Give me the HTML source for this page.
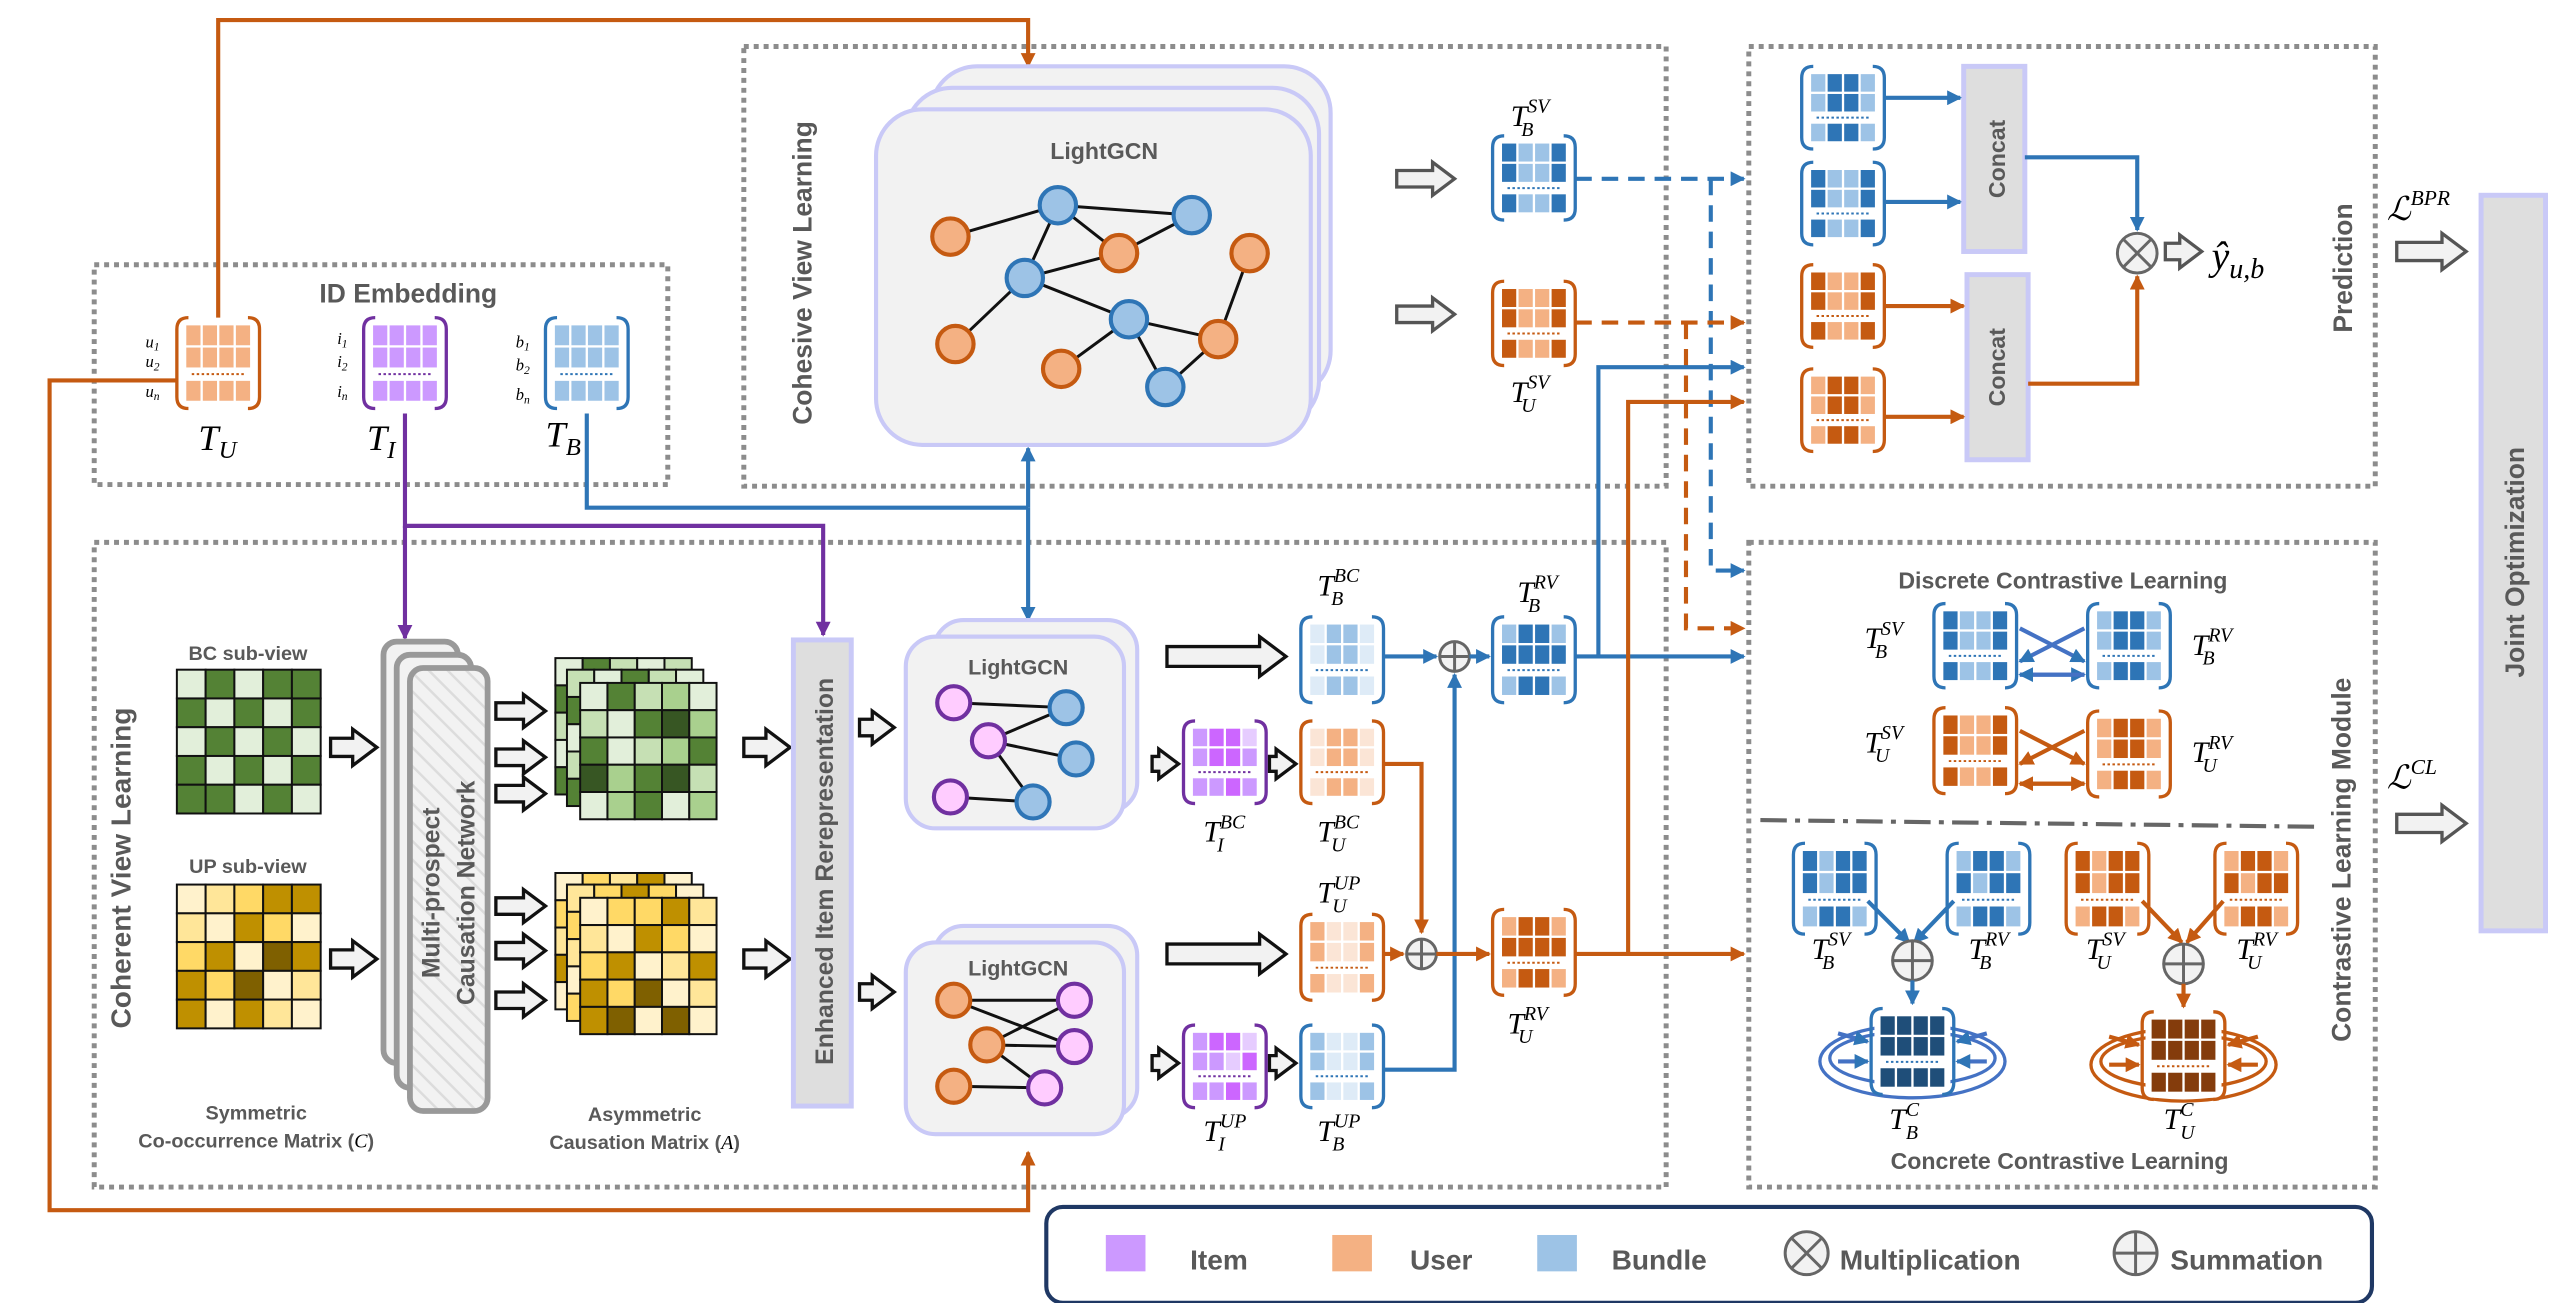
<!DOCTYPE html>
<html><head><meta charset="utf-8"><style>
html,body{margin:0;padding:0;background:#fff;}
svg{display:block;}
.t{font-family:"Liberation Sans",sans-serif;font-weight:bold;fill:#595959;}
.m{font-family:"Liberation Serif",serif;font-style:italic;fill:#000;}
</style></head><body>
<svg id="s" xmlns="http://www.w3.org/2000/svg" width="2567" height="1303" viewBox="0 0 1553 788">
<defs>
<marker id="ab" markerWidth="9" markerHeight="9" refX="8" refY="4.5" orient="auto" markerUnits="userSpaceOnUse"><path d="M0,0 L9,4.5 L0,9 z" fill="#2e75b6"/></marker>
<marker id="ao" markerWidth="9" markerHeight="9" refX="8" refY="4.5" orient="auto" markerUnits="userSpaceOnUse"><path d="M0,0 L9,4.5 L0,9 z" fill="#c55a11"/></marker>
<marker id="ap" markerWidth="9" markerHeight="9" refX="8" refY="4.5" orient="auto" markerUnits="userSpaceOnUse"><path d="M0,0 L9,4.5 L0,9 z" fill="#7030a0"/></marker>
<pattern id="hatch" width="8" height="8" patternUnits="userSpaceOnUse" patternTransform="rotate(-45)"><rect width="8" height="8" fill="#f2f2f2"/><line x1="0" y1="0" x2="0" y2="8" stroke="#dcdcdc" stroke-width="3"/></pattern>
</defs>
<g id="g"></g>
<g id="txt">
<text class="t" x="247" y="183" font-size="16" text-anchor="middle">ID Embedding</text>
<text class="m" x="88" y="210" font-size="10">u<tspan font-size="7" dy="2">1</tspan></text>
<text class="m" x="88" y="222" font-size="10">u<tspan font-size="7" dy="2">2</tspan></text>
<text class="m" x="88" y="240" font-size="10">u<tspan font-size="7" dy="2">n</tspan></text>
<text class="m" x="204" y="208" font-size="10">i<tspan font-size="7" dy="2">1</tspan></text>
<text class="m" x="204" y="222" font-size="10">i<tspan font-size="7" dy="2">2</tspan></text>
<text class="m" x="204" y="240" font-size="10">i<tspan font-size="7" dy="2">n</tspan></text>
<text class="m" x="312" y="210" font-size="10">b<tspan font-size="7" dy="2">1</tspan></text>
<text class="m" x="312" y="224" font-size="10">b<tspan font-size="7" dy="2">2</tspan></text>
<text class="m" x="312" y="242" font-size="10">b<tspan font-size="7" dy="2">n</tspan></text>
<text class="m" x="120" y="272" font-size="22">T<tspan font-size="15" dy="5">U</tspan></text>
<text class="m" x="222" y="272" font-size="22">T<tspan font-size="15" dy="5">I</tspan></text>
<text class="m" x="330" y="270" font-size="22">T<tspan font-size="15" dy="5">B</tspan></text>
<text class="t" transform="translate(491,165) rotate(-90)" font-size="16" text-anchor="middle">Cohesive View Learning</text>
<text class="t" x="668" y="96" font-size="14" text-anchor="middle">LightGCN</text>
<text class="m" x="914" y="76" font-size="18">T<tspan font-size="12" dy="-8">SV</tspan><tspan font-size="12" dx="-17" dy="14">B</tspan></text>
<text class="m" x="914" y="243" font-size="18">T<tspan font-size="12" dy="-8">SV</tspan><tspan font-size="12" dx="-17" dy="14">U</tspan></text>
<text class="t" transform="translate(1213,96) rotate(-90)" font-size="14" text-anchor="middle">Concat</text>
<text class="t" transform="translate(1213,222) rotate(-90)" font-size="14" text-anchor="middle">Concat</text>
<text class="m" x="1338" y="163" font-size="24">ŷ<tspan font-size="17" dy="5">u,b</tspan></text>
<text class="t" transform="translate(1423,162) rotate(-90)" font-size="16" text-anchor="middle">Prediction</text>
<text class="m" x="1444" y="133" font-size="20">ℒ<tspan font-size="13" dy="-9">BPR</tspan></text>
<text class="m" x="1444" y="477" font-size="20">ℒ<tspan font-size="13" dy="-9">CL</tspan></text>
<text class="t" transform="translate(1527,340) rotate(-90)" font-size="16" text-anchor="middle">Joint Optimization</text>
<text class="t" transform="translate(79,525) rotate(-90)" font-size="17" text-anchor="middle">Coherent View Learning</text>
<text class="t" x="150" y="399" font-size="12" text-anchor="middle">BC sub-view</text>
<text class="t" x="150" y="528" font-size="12" text-anchor="middle">UP sub-view</text>
<text class="t" transform="translate(266,540) rotate(-90)" font-size="15" text-anchor="middle">Multi-prospect</text>
<text class="t" transform="translate(287,540) rotate(-90)" font-size="15" text-anchor="middle">Causation Network</text>
<text class="t" x="155" y="677" font-size="12" text-anchor="middle">Symmetric</text>
<text class="t" x="155" y="694" font-size="12" text-anchor="middle">Co-occurrence Matrix (<tspan class="m" font-weight="normal" fill="#595959">C</tspan>)</text>
<text class="t" x="390" y="678" font-size="12" text-anchor="middle">Asymmetric</text>
<text class="t" x="390" y="695" font-size="12" text-anchor="middle">Causation Matrix (<tspan class="m" font-weight="normal" fill="#595959">A</tspan>)</text>
<text class="t" transform="translate(504,527) rotate(-90)" font-size="15" text-anchor="middle">Enhanced Item Rerepresentation</text>
<text class="t" x="616" y="408" font-size="13" text-anchor="middle">LightGCN</text>
<text class="t" x="616" y="590" font-size="13" text-anchor="middle">LightGCN</text>
<text class="m" x="797" y="360" font-size="18">T<tspan font-size="12" dy="-8">BC</tspan><tspan font-size="12" dx="-17" dy="14">B</tspan></text>
<text class="m" x="918" y="364" font-size="18">T<tspan font-size="12" dy="-8">RV</tspan><tspan font-size="12" dx="-18" dy="14">B</tspan></text>
<text class="m" x="728" y="509" font-size="18">T<tspan font-size="12" dy="-8">BC</tspan><tspan font-size="12" dx="-17" dy="14">I</tspan></text>
<text class="m" x="797" y="509" font-size="18">T<tspan font-size="12" dy="-8">BC</tspan><tspan font-size="12" dx="-17" dy="14">U</tspan></text>
<text class="m" x="797" y="546" font-size="18">T<tspan font-size="12" dy="-8">UP</tspan><tspan font-size="12" dx="-17" dy="14">U</tspan></text>
<text class="m" x="912" y="625" font-size="18">T<tspan font-size="12" dy="-8">RV</tspan><tspan font-size="12" dx="-18" dy="14">U</tspan></text>
<text class="m" x="728" y="690" font-size="18">T<tspan font-size="12" dy="-8">UP</tspan><tspan font-size="12" dx="-17" dy="14">I</tspan></text>
<text class="m" x="797" y="690" font-size="18">T<tspan font-size="12" dy="-8">UP</tspan><tspan font-size="12" dx="-17" dy="14">B</tspan></text>
<text class="t" x="1248" y="356" font-size="14" text-anchor="middle">Discrete Contrastive Learning</text>
<text class="m" x="1128" y="392" font-size="18">T<tspan font-size="12" dy="-8">SV</tspan><tspan font-size="12" dx="-17" dy="14">B</tspan></text>
<text class="m" x="1326" y="396" font-size="18">T<tspan font-size="12" dy="-8">RV</tspan><tspan font-size="12" dx="-18" dy="14">B</tspan></text>
<text class="m" x="1128" y="455" font-size="18">T<tspan font-size="12" dy="-8">SV</tspan><tspan font-size="12" dx="-17" dy="14">U</tspan></text>
<text class="m" x="1326" y="461" font-size="18">T<tspan font-size="12" dy="-8">RV</tspan><tspan font-size="12" dx="-18" dy="14">U</tspan></text>
<text class="m" x="1096" y="580" font-size="18">T<tspan font-size="12" dy="-8">SV</tspan><tspan font-size="12" dx="-17" dy="14">B</tspan></text>
<text class="m" x="1191" y="580" font-size="18">T<tspan font-size="12" dy="-8">RV</tspan><tspan font-size="12" dx="-18" dy="14">B</tspan></text>
<text class="m" x="1262" y="580" font-size="18">T<tspan font-size="12" dy="-8">SV</tspan><tspan font-size="12" dx="-17" dy="14">U</tspan></text>
<text class="m" x="1353" y="580" font-size="18">T<tspan font-size="12" dy="-8">RV</tspan><tspan font-size="12" dx="-18" dy="14">U</tspan></text>
<text class="m" x="1143" y="683" font-size="18">T<tspan font-size="12" dy="-8">C</tspan><tspan font-size="12" dx="-8" dy="14">B</tspan></text>
<text class="m" x="1309" y="683" font-size="18">T<tspan font-size="12" dy="-8">C</tspan><tspan font-size="12" dx="-8" dy="14">U</tspan></text>
<text class="t" x="1246" y="707" font-size="14" text-anchor="middle">Concrete Contrastive Learning</text>
<text class="t" transform="translate(1422,520) rotate(-90)" font-size="16" text-anchor="middle">Contrastive Learning Module</text>
<text class="t" x="720" y="768" font-size="17">Item</text>
<text class="t" x="853" y="768" font-size="17">User</text>
<text class="t" x="975" y="768" font-size="17">Bundle</text>
<text class="t" x="1113" y="768" font-size="17">Multiplication</text>
<text class="t" x="1313" y="768" font-size="17">Summation</text>
</g>
</svg>
<script>
const ns="http://www.w3.org/2000/svg",G=document.getElementById('g');
function el(t,a){const e=document.createElementNS(ns,t);for(const k in a)e.setAttribute(k,a[k]);G.appendChild(e);return e;}
function dbox(x,y,w,h){el('rect',{x,y,width:w,height:h,fill:'none',stroke:'#8c8c8c','stroke-width':3,'stroke-dasharray':'3 3'});}
function line(pts,c,mk,dash){const a={points:pts,fill:'none',stroke:c,'stroke-width':2.5};if(mk)a['marker-end']='url(#'+mk+')';if(dash)a['stroke-dasharray']=dash;el('polyline',a);}
function harrow(x1,x2,y,h,fill,stroke){const hh=h/2,hw=h*0.95,ax=x2-hw*0.7;el('polygon',{points:`${x1},${y-hh/2} ${ax},${y-hh/2} ${ax},${y-hh} ${x2},${y} ${ax},${y+hh} ${ax},${y+hh/2} ${x1},${y+hh/2}`,fill:fill||'#f2f2f2',stroke:stroke||'#555','stroke-width':2});}
const C={o:{b:'#c55a11',D:'#c55a11',L:'#f4b183',P:'#fbe5d6',X:'#843c0c'},b:{b:'#2e75b6',D:'#2e75b6',L:'#9dc3e6',P:'#deebf7',X:'#1f4e79'},p:{b:'#7030a0',D:'#cc66ff',L:'#cc99ff',P:'#e6ccff',X:'#7030a0'}};
function mat(x,y,w,h,col,pat){const c=C[col];
 el('rect',{x:x+2,y:y+1,width:w-4,height:h-2,fill:'#fff'});
 el('path',{d:`M${x+7},${y} Q${x},${y} ${x},${y+7} L${x},${y+h-7} Q${x},${y+h} ${x+7},${y+h}`,fill:'none',stroke:c.b,'stroke-width':2});
 el('path',{d:`M${x+w-7},${y} Q${x+w},${y} ${x+w},${y+7} L${x+w},${y+h-7} Q${x+w},${y+h} ${x+w-7},${y+h}`,fill:'none',stroke:c.b,'stroke-width':2});
 const ix=x+5,iw=w-10,cw=iw/4,iy=y+4,ih=h-8,rh=ih/3.5;
 const rows=[iy,iy+rh,iy+rh*2.5];
 for(let r=0;r<3;r++)for(let k=0;k<4;k++){const ch=pat[r*4+k];el('rect',{x:ix+k*cw+0.7,y:rows[r]+0.7,width:cw-1.4,height:rh-1.4,fill:c[ch]});}
 el('line',{x1:ix+4,y1:iy+rh*2.25,x2:ix+iw-4,y2:iy+rh*2.25,stroke:c.b,'stroke-width':1.2,'stroke-dasharray':'1.5 1.5'});
}
function oplus(x,y,r){el('circle',{cx:x,cy:y,r,fill:'#f2f2f2',stroke:'#666','stroke-width':1.8});el('line',{x1:x-r,y1:y,x2:x+r,y2:y,stroke:'#666','stroke-width':1.8});el('line',{x1:x,y1:y-r,x2:x,y2:y+r,stroke:'#666','stroke-width':1.8});}
function otimes(x,y,r){el('circle',{cx:x,cy:y,r,fill:'#f2f2f2',stroke:'#666','stroke-width':1.8});const d=r*0.7;el('line',{x1:x-d,y1:y-d,x2:x+d,y2:y+d,stroke:'#666','stroke-width':1.8});el('line',{x1:x-d,y1:y+d,x2:x+d,y2:y-d,stroke:'#666','stroke-width':1.8});}
function node(x,y,t,r){const m={o:['#f4b183','#c55a11'],b:['#9dc3e6','#2e75b6'],p:['#ffccff','#7030a0']}[t];el('circle',{cx:x,cy:y,r:r||11,fill:m[0],stroke:m[1],'stroke-width':2.5});}
function grid(x,y,s,n,pat,cols){for(let i=0;i<n;i++)for(let j=0;j<n;j++){el('rect',{x:x+j*s,y:y+i*s,width:s,height:s,fill:cols[pat[i*n+j]],stroke:'#111','stroke-width':1.2});}}

dbox(57,160,347,133);dbox(450,28,558,266);dbox(1058,28,379,266);dbox(57,328,951,390);dbox(1058,328,379,390);
line('132,192 132,12 622,12 622,40','#c55a11','ao');
line('107,230 30,230 30,732 622,732 622,697','#c55a11','ao');
line('355,250 355,307 622,307','#2e75b6');
line('622,307 622,271','#2e75b6','ab');line('622,307 622,375','#2e75b6','ab');
line('245,250 245,318 498,318 498,384','#7030a0','ap');line('245,318 245,386','#7030a0','ap');
el('rect',{x:563,y:40,width:242,height:200,rx:28,fill:'#f2f2f2',stroke:'#c9c9f7','stroke-width':2.5});
el('rect',{x:548,y:53,width:250,height:205,rx:28,fill:'#f2f2f2',stroke:'#c9c9f7','stroke-width':2.5});
el('rect',{x:530,y:66,width:263,height:203,rx:28,fill:'#f2f2f2',stroke:'#c9c9f7','stroke-width':2.5});
const N={a:[575,143],b:[578,208],c:[642,223],d:[677,153],e:[737,205],f:[756,153],g:[640,124],h:[620,168],i:[683,193],j:[705,234],k:[721,130]};
['ag','gk','gh','hd','hb','hi','ic','ie','ij','dk','fe','ej','gd'].forEach(p=>{const A=N[p[0]],B=N[p[1]];el('line',{x1:A[0],y1:A[1],x2:B[0],y2:B[1],stroke:'#111','stroke-width':1.8});});
'abcdef'.split('').forEach(k=>node(N[k][0],N[k][1],'o'));'ghijk'.split('').forEach(k=>node(N[k][0],N[k][1],'b'));
harrow(845,880,108,20);harrow(845,880,190,20);
mat(107,192,50,55,'o','LLLLLLLLLLLL');mat(220,192,50,55,'p','LLLLLLLLLLLL');mat(330,192,50,55,'b','LLLLLLLLLLLL');
mat(903,82,50,51,'b','DLLDDLLDDLLD');mat(903,170,50,51,'o','DLLDDLLDDLLD');
line('953,108 1055,108','#2e75b6','ab','10 6');line('1035,108 1035,345 1055,345','#2e75b6','ab','10 6');
line('953,195 1055,195','#c55a11','ao','10 6');line('1020,195 1020,380 1055,380','#c55a11','ao','10 6');
mat(1090,40,50,50,'b','LDDLLDDLLDDL');mat(1090,98,50,50,'b','DLLDDLLDDLLD');mat(1090,160,50,50,'o','DLLDDLLDDLLD');mat(1090,223,50,50,'o','LDDLLDDLLDDL');
el('rect',{x:1188,y:40,width:37,height:112,fill:'#dedede',stroke:'#c9c9f7','stroke-width':3});
el('rect',{x:1190,y:166,width:37,height:112,fill:'#dedede',stroke:'#c9c9f7','stroke-width':3});
line('1140,59 1186,59','#2e75b6','ab');line('1140,122 1186,122','#2e75b6','ab');line('1140,185 1188,185','#c55a11','ao');line('1140,252 1188,252','#c55a11','ao');
line('1225,95 1293,95 1293,139','#2e75b6','ab');line('1227,232 1293,232 1293,167','#c55a11','ao');
otimes(1293,153,12);harrow(1310,1332,152,20);
el('rect',{x:1501,y:118,width:39,height:445,fill:'#dedede',stroke:'#c9c9f7','stroke-width':3});
harrow(1450,1492,152,22);harrow(1450,1492,498,22);
grid(107,405,17.4,5,'LDLDDDLDLDLDLDLDLDLDDDLDL',{L:'#e2efda',D:'#548235'});
grid(107,535,17.4,5,'PYSDDYPDSPSDPXDDSXPYDPDYP',{P:'#fff2cc',Y:'#ffe699',S:'#ffd966',D:'#bf9000',X:'#7f6000'});
harrow(200,228,452,22,'#f2f2f2','#111');harrow(200,228,580,22,'#f2f2f2','#111');
el('rect',{x:232,y:388,width:45,height:255,rx:8,fill:'#f2f2f2',stroke:'#999','stroke-width':3.5});
el('rect',{x:240,y:396,width:45,height:262,rx:8,fill:'#f2f2f2',stroke:'#999','stroke-width':3.5});
el('rect',{x:248,y:404,width:47,height:268,rx:8,fill:'url(#hatch)',stroke:'#999','stroke-width':3.5});
[430,458,480].forEach(y=>harrow(300,330,y,20,'#f2f2f2','#111'));[548,575,605].forEach(y=>harrow(300,330,y,20,'#f2f2f2','#111'));
const gc={L:'#e2efda',M:'#c6e0b4',A:'#a9d08e',D:'#548235',X:'#375623'};
grid(336,398,16.5,5,'LDMLMDLMDLMLDMDLMDLMDMLMD',gc);grid(343,405,16.5,5,'MLDMLDMLDMLDMLDMLDMLDMLDM',gc);grid(351,413,16.5,5,'LDMALMLDXADLMADXADXMLADLA',gc);
const yc={P:'#fff2cc',Y:'#ffe699',S:'#ffd966',D:'#bf9000',X:'#7f6000'};
grid(336,528,16.5,5,'PSYDPSYDPSYDPSYDPSYDPSYDP',yc);grid(343,535,16.5,5,'YSDSPSYDPSYDSYDPSYDPSYDSY',yc);grid(351,543,16.5,5,'PSSDYYPDSPSDPYDDSXPYDXPXP',yc);
harrow(450,478,452,22,'#f2f2f2','#111');harrow(450,478,580,22,'#f2f2f2','#111');
el('rect',{x:480,y:387,width:35,height:282,fill:'#dedede',stroke:'#c9c9f7','stroke-width':3});
harrow(520,541,440,20,'#f2f2f2','#111');harrow(520,541,600,20,'#f2f2f2','#111');
el('rect',{x:565,y:375,width:123,height:116,rx:18,fill:'#f2f2f2',stroke:'#c9c9f7','stroke-width':2.5});
el('rect',{x:548,y:385,width:132,height:116,rx:18,fill:'#f2f2f2',stroke:'#c9c9f7','stroke-width':2.5});
el('rect',{x:565,y:560,width:123,height:116,rx:18,fill:'#f2f2f2',stroke:'#c9c9f7','stroke-width':2.5});
el('rect',{x:548,y:570,width:132,height:116,rx:18,fill:'#f2f2f2',stroke:'#c9c9f7','stroke-width':2.5});
[[577,425,645,428],[598,448,645,428],[598,448,651,459],[598,448,625,485],[575,482,625,485]].forEach(a=>el('line',{x1:a[0],y1:a[1],x2:a[2],y2:a[3],stroke:'#111','stroke-width':1.8}));
node(577,425,'p',10);node(598,448,'p',10);node(575,482,'p',10);node(645,428,'b',10);node(651,459,'b',10);node(625,485,'b',10);
[[577,605,650,605],[577,605,650,633],[597,632,650,605],[597,632,650,633],[577,657,632,658],[597,632,632,658]].forEach(a=>el('line',{x1:a[0],y1:a[1],x2:a[2],y2:a[3],stroke:'#111','stroke-width':1.8}));
node(577,605,'o',10);node(597,632,'o',10);node(577,657,'o',10);node(650,605,'p',10);node(650,633,'p',10);node(632,658,'p',10);
harrow(706,778,397,24,'#f2f2f2','#111');harrow(706,778,577,24,'#f2f2f2','#111');
harrow(697,713,462,18,'#f2f2f2','#111');harrow(768,784,462,18,'#f2f2f2','#111');
harrow(697,713,643,18,'#f2f2f2','#111');harrow(768,784,643,18,'#f2f2f2','#111');
mat(787,373,50,52,'b','PLLPPLLPPLLP');mat(716,436,50,50,'p','LDDPLDDLLLDL');mat(787,436,50,50,'o','PLLPPLLPPLLP');
mat(787,553,50,52,'o','LPPLLPPLLPPL');mat(716,620,50,50,'p','LDDPLLPDLLDL');mat(787,620,50,50,'b','LPPLLPPLLPPL');
mat(903,373,50,52,'b','LDDLDDDDLDDL');mat(903,550,50,52,'o','LDDLDDDDLDDL');
line('837,397 869,397','#2e75b6','ab');oplus(880,397,9);line('889,397 901,397','#2e75b6','ab');
line('837,647 880,647 880,408','#2e75b6','ab');
line('837,462 860,462 860,564','#c55a11','ao');line('837,577 849,577','#c55a11','ao');oplus(860,577,9);line('869,577 901,577','#c55a11','ao');
line('953,397 1055,397','#2e75b6','ab');line('967,397 967,222 1055,222','#2e75b6','ab');
line('953,577 1055,577','#c55a11','ao');line('985,577 985,243 1055,243','#c55a11','ao');
mat(1170,365,50,51,'b','DLLDDLLDDLLD');mat(1263,365,50,51,'b','LDDLLDDLLDDL');
mat(1170,428,50,52,'o','DLLDDLLDDLLD');mat(1263,430,50,52,'o','LDDLLDDLLDDL');
line('1222,380 1261,400','#4472c4','ab');line('1261,380 1222,400','#4472c4','ab');line('1222,408 1261,408','#4472c4','ab');line('1261,408 1222,408','#4472c4','ab');
line('1222,442 1261,462','#c55a11','ao');line('1261,442 1222,462','#c55a11','ao');line('1222,474 1261,474','#c55a11','ao');line('1261,474 1222,474','#c55a11','ao');
el('line',{x1:1065,y1:496,x2:1400,y2:500,stroke:'#666','stroke-width':2.5,'stroke-dasharray':'16 5 3 5'});
mat(1085,510,50,55,'b','DLDDDLDDLDDL');mat(1178,510,50,55,'b','LDDLDLDDLDDL');mat(1250,510,50,55,'o','DLDDDLDDLDDL');mat(1340,510,50,55,'o','LDDLDLDDLDDL');
line('1130,545 1155,570','#2e75b6','ab');line('1182,545 1158,570','#2e75b6','ab');
line('1296,545 1320,570','#c55a11','ao');line('1345,545 1323,570','#c55a11','ao');
oplus(1157,581,12);oplus(1321,583,12);
line('1157,593 1157,607','#2e75b6','ab');line('1321,595 1321,609','#c55a11','ao');
el('ellipse',{cx:1157,cy:642,rx:56,ry:22,fill:'none',stroke:'#4472c4','stroke-width':2});
el('ellipse',{cx:1157,cy:640,rx:50,ry:16,fill:'none',stroke:'#4472c4','stroke-width':2});
el('ellipse',{cx:1321,cy:644,rx:56,ry:22,fill:'none',stroke:'#c55a11','stroke-width':2});
el('ellipse',{cx:1321,cy:642,rx:50,ry:16,fill:'none',stroke:'#c55a11','stroke-width':2});
mat(1132,610,50,52,'b','XXXXXXXXXXXX');mat(1296,612,50,53,'o','XXXXXXXXXXXX');
line('1112,625 1130,630','#4472c4','ab');line('1202,625 1184,630','#4472c4','ab');line('1112,642 1130,642','#4472c4','ab');line('1202,642 1184,642','#4472c4','ab');
line('1276,627 1294,632','#c55a11','ao');line('1366,627 1348,632','#c55a11','ao');line('1276,644 1294,644','#c55a11','ao');line('1366,644 1348,644','#c55a11','ao');
el('rect',{x:633,y:730,width:802,height:58,rx:10,fill:'#fff',stroke:'#1f3864','stroke-width':2.5});
el('rect',{x:669,y:747,width:24,height:22,fill:'#cc99ff'});el('rect',{x:806,y:747,width:24,height:22,fill:'#f4b183'});el('rect',{x:930,y:747,width:24,height:22,fill:'#9dc3e6'});
otimes(1093,758,13);oplus(1292,758,13);
</script>
</body></html>
